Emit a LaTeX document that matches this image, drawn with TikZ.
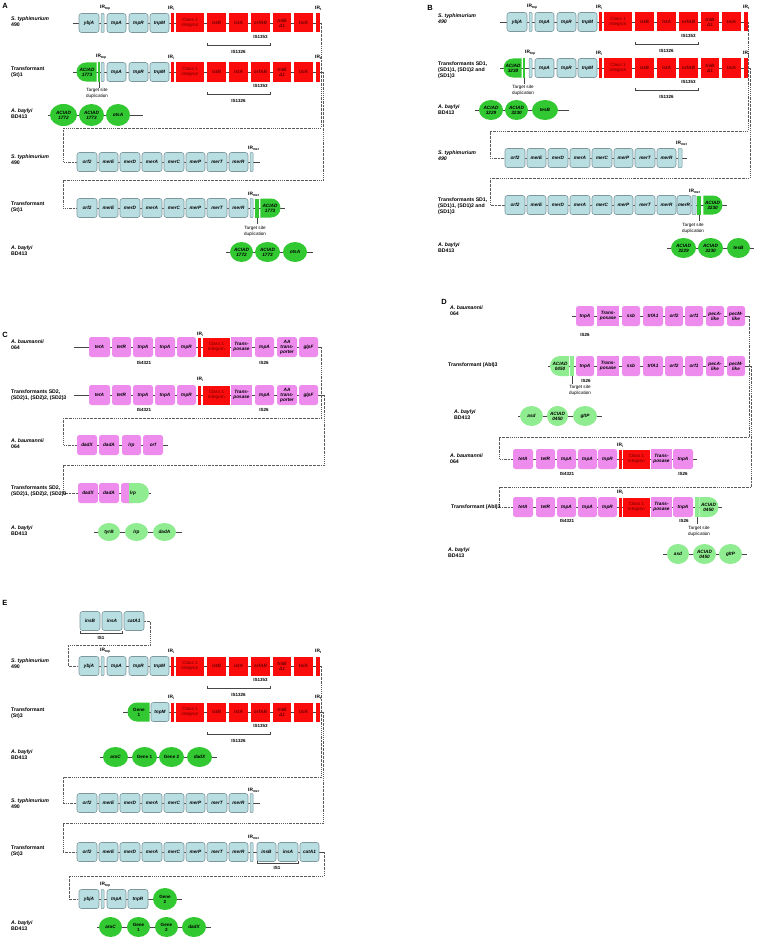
\documentclass[tikz,border=0pt]{standalone}
\usepackage{fontspec}
\setmainfont{Liberation Sans}
\usetikzlibrary{shapes.geometric,shapes.misc}
\pgfdeclarelayer{bglayer}
\pgfsetlayers{bglayer,main}
\definecolor{lbl}{RGB}{185,222,226}
\definecolor{lbd}{RGB}{125,152,156}
\definecolor{rred}{RGB}{250,12,12}
\definecolor{dred}{RGB}{110,0,0}
\definecolor{pnk}{RGB}{238,140,238}
\definecolor{dgr}{RGB}{50,200,50}
\definecolor{lgr}{RGB}{144,236,144}
\definecolor{bbc}{RGB}{70,70,70}
\definecolor{cc}{RGB}{90,90,90}
\newcommand\gfont{\fontsize{4.7}{5}\selectfont\bfseries\itshape}
\newcommand\gnfont{\fontsize{4.6}{5}\selectfont}
\newcommand\lfont{\fontsize{5.2}{6}\selectfont\bfseries}
\newcommand\irfont{\fontsize{4.8}{5}\selectfont\bfseries}
\newcommand\isfont{\fontsize{4.5}{5}\selectfont\bfseries}
\newcommand\tsfont{\fontsize{4.6}{6}\selectfont}
\newcommand\pfont{\fontsize{7.5}{8}\selectfont\bfseries}
\newcommand\bx[6]{\node[#1,minimum width={(#4)-(#3)}] (#2) at ({((#3)+(#4))/2},{#5}) {#6};}
\newcommand\irlab[4]{\node[irl] (#1) at ({#2},{#3}) {IR\textsubscript{#4}};}
\newcommand\tnpblk[3]{%
\bx{lb}{#1tnpA}{107+#2}{126+#2}{#3}{tnpA}
\bx{lb}{#1tnpR}{129+#2}{148+#2}{#3}{tnpR}
\bx{lb}{#1tnpM}{150+#2}{169+#2}{#3}{tnpM}}
\newcommand\redpart[3]{%
\bx{rdbar}{#1irl}{171+#2}{174+#2}{#3}{}
\bx{rdn}{#1int}{176+#2}{204+#2}{#3}{Class 1\\integron}
\bx{rd}{#1istB}{207+#2}{226+#2}{#3}{istB}
\bx{rd}{#1istA}{229+#2}{248+#2}{#3}{istA}
\bx{rd}{#1orfAB}{251+#2}{270+#2}{#3}{orfAB}
\bx{rd}{#1tniB}{273+#2}{291+#2}{#3}{tniB\\Δ1}
\bx{rd}{#1tniA}{294+#2}{313+#2}{#3}{tniA}
\bx{rdbar}{#1irt}{316+#2}{320+#2}{#3}{}
\irlab{#1irll}{168+#2}{#3-15}{i}
\irlab{#1irtl}{315+#2}{#3-15}{t}
\node[islab] (#1isa) at ({260.5+#2},{#3+14}) {IS1353};
\draw[brk] ({207+#2},{#3+20}) -- ({207+#2},{#3+22}) -- ({270+#2},{#3+22}) -- ({270+#2},{#3+20});
\node[islab] (#1isb) at ({238.5+#2},{#3+29}) {IS1326};}
\newcommand\merpart[3]{%
\bx{lb}{#1orf2}{77+#2}{97+#2}{#3}{orf2}
\bx{lb}{#1merE}{99+#2}{118+#2}{#3}{merE}
\bx{lb}{#1merD}{120+#2}{140+#2}{#3}{merD}
\bx{lb}{#1merA}{142+#2}{162+#2}{#3}{merA}
\bx{lb}{#1merC}{164+#2}{184+#2}{#3}{merC}
\bx{lb}{#1merP}{186+#2}{205+#2}{#3}{merP}
\bx{lb}{#1merT}{207+#2}{227+#2}{#3}{merT}
\bx{lb}{#1merR}{229+#2}{248+#2}{#3}{merR}}
\newcommand\pinkrow[2]{%
\bx{pk}{#1tetA}{89}{110}{#2}{tetA}
\bx{pk}{#1tetR}{112}{131}{#2}{tetR}
\bx{pk}{#1tnpA}{133}{153}{#2}{tnpA}
\bx{pk}{#1tnpAb}{155}{175}{#2}{tnpA}
\bx{pk}{#1tnpR}{177}{196}{#2}{tnpR}
\bx{rdbar}{#1irl}{198}{201}{#2}{}
\bx{rdn}{#1int}{203}{230}{#2}{Class 1\\integron}
\bx{pkn}{#1trans}{231}{252}{#2}{Trans-\\posase}
\bx{pk}{#1tnpAc}{255}{274}{#2}{tnpA}
\bx{pk}{#1aat}{277}{297}{#2}{AA\\trans-\\porter}
\bx{pk}{#1glpF}{299}{318}{#2}{glpF}}
\newcommand\drow[2]{%
\bx{pk}{#1tnpA}{576}{594}{#2}{tnpA}
\bx{pkn}{#1trans}{597}{619}{#2}{Trans-\\posase}
\bx{pk}{#1ssb}{622}{640}{#2}{ssb}
\bx{pk}{#1trfA}{643}{663}{#2}{trfA1}
\bx{pk}{#1orf2}{665}{683}{#2}{orf2}
\bx{pk}{#1orf1}{685}{703}{#2}{orf1}
\bx{pk}{#1pecA}{706}{724}{#2}{pecA-\\like}
\bx{pk}{#1pecM}{727}{745}{#2}{pecM-\\like}}
\newcommand\dtnrow[2]{%
\bx{pk}{#1tetA}{513}{533}{#2}{tetA}
\bx{pk}{#1tetR}{536}{555}{#2}{tetR}
\bx{pk}{#1tnpA}{557}{576}{#2}{tnpA}
\bx{pk}{#1tnpAb}{578}{597}{#2}{tnpA}
\bx{pk}{#1tnpR}{598}{617}{#2}{tnpR}
\bx{rdbar}{#1irl}{619}{622}{#2}{}
\bx{rdn}{#1int}{623}{650}{#2}{Class 1\\integron}
\bx{pkn}{#1trans}{651}{672}{#2}{Trans-\\posase}
\bx{pk}{#1tnpAc}{673}{693}{#2}{tnpA}}
\begin{document}
\begin{tikzpicture}[x=1pt,y=-1pt,
 base/.style={inner sep=0pt,outer sep=0pt,minimum height=19pt,align=center,font=\gfont},
 lb/.style={base,fill=lbl,draw=lbd,line width=0.6pt,rounded corners=2.5pt},
 irb/.style={base,fill=lbl,draw=lbd,line width=0.5pt,rounded corners=0.8pt},
 rd/.style={base,fill=rred,text=dred},
 rdn/.style={base,fill=rred,text=dred,font=\gnfont},
 rdbar/.style={base,fill=rred},
 pk/.style={base,fill=pnk,rounded corners=2.5pt,minimum height=20pt},
 pkn/.style={base,fill=pnk,minimum height=20pt},
 gel/.style={base,ellipse,fill=dgr,minimum height=20pt},
 lgel/.style={base,ellipse,fill=lgr,minimum height=20pt},
 gdl/.style={base,rounded rectangle,rounded rectangle right arc=none,fill=dgr},
 gdr/.style={base,rounded rectangle,rounded rectangle left arc=none,fill=dgr},
 lgdl/.style={base,rounded rectangle,rounded rectangle right arc=none,fill=lgr},
 lgdr/.style={base,rounded rectangle,rounded rectangle left arc=none,fill=lgr},
 gbar/.style={base,fill=dgr},
 lgbar/.style={base,fill=lgr},
 lab/.style={anchor=west,align=left,font=\lfont,inner sep=0pt},
 irl/.style={anchor=west,font=\irfont,inner sep=0pt},
 islab/.style={font=\isfont,inner sep=0pt},
 tsd/.style={font=\tsfont,align=center,inner sep=0pt},
 bb/.style={draw=bbc,line width=0.5pt},
 conn/.style={draw=cc,line width=0.5pt,dash pattern=on 1.8pt off 0.9pt on 0.5pt off 0.9pt},
 brk/.style={draw=bbc,line width=0.5pt},
 panel/.style={font=\pfont,inner sep=0pt}]
\useasboundingbox (0,0) rectangle (759,942);
% ================= PANEL A =================
\node[panel] (pA) at (5,6) {A};
\node[lab] (a1lab) at (11,22) {\textit{S. typhimurium}\\490};
\bx{lb}{a1ybj}{79}{99}{23}{ybjA}
\bx{irb}{a1irp}{101}{104}{23}{}
\irlab{a1irpl}{100}{8}{tnp}
\tnpblk{a1}{0}{23}
\redpart{a1}{0}{23}
\coordinate (a1s) at (73,23); \coordinate (a1e) at (321,23);
\node[lab] (a2lab) at (11,72) {Transformant\\(St)1};
\bx{gdl}{a2aci}{77}{97}{72}{ACIAD\\1773}
\bx{gbar}{a2tsd}{97.5}{100}{72}{}
\bx{irb}{a2irp}{101}{104}{72}{}
\irlab{a2irpl}{96}{57}{tnp}
\tnpblk{a2}{0}{72}
\redpart{a2}{0}{72}
\node[tsd] (a2tsdl) at (97,93.5) {Target site\\duplication};
\coordinate (a2s) at (73,72); \coordinate (a2e) at (323,72);
\node[lab] (a3lab) at (11,114) {\textit{A. baylyi}\\BD413};
\bx{gel,minimum height=22pt}{a3e1}{50}{77}{115}{ACIAD\\1772}
\bx{gel,minimum height=22pt}{a3e2}{79}{104}{115}{ACIAD\\1773}
\bx{gel,minimum height=22pt}{a3e3}{106}{130}{115}{otsA}
\coordinate (a3s) at (48,115); \coordinate (a3e) at (143,115);
\node[lab] (a4lab) at (11,160) {\textit{S. typhimurium}\\490};
\merpart{a4}{0}{162}
\bx{irb}{a4irm}{250}{253}{162}{}
\irlab{a4irml}{248}{148}{mer}
\coordinate (a4e) at (260,162);
\node[lab] (a5lab) at (11,207) {Transformant\\(St)1};
\merpart{a5}{0}{208}
\bx{irb}{a5irm}{250}{253}{208}{}
\irlab{a5irml}{248}{194}{mer}
\bx{gbar}{a5tsd}{255}{258.5}{208}{}
\bx{gdr}{a5aci}{260}{280}{208}{ACIAD\\1773}
\node[tsd] (a5tsdl) at (255,231) {Target site\\duplication};
\coordinate (a5e) at (285,208);
\node[lab] (a6lab) at (11,251) {\textit{A. baylyi}\\BD413};
\bx{gel}{a6e1}{230}{253}{252}{ACIAD\\1772}
\bx{gel}{a6e2}{255}{280}{252}{ACIAD\\1773}
\bx{gel}{a6e3}{283}{307}{252}{otsA}
\coordinate (a6s) at (226,252); \coordinate (a6e) at (313,252);
% ================= PANEL B =================
\node[panel] (pB) at (430,8) {B};
\node[lab] (b1lab) at (438,18.5) {\textit{S. typhimurium}\\\textit{490}};
\bx{lb}{b1ybj}{507}{527}{22}{ybjA}
\bx{irb}{b1irp}{529}{532}{22}{}
\irlab{b1irpl}{527}{7}{tnp}
\tnpblk{b1}{428}{22}
\redpart{b1}{428}{22}
\coordinate (b1s) at (500,22); \coordinate (b1e) at (748,22);
\node[lab] (b2lab) at (438,70) {Transformants SD1,\\(SD1)1, (SD1)2 and\\(SD1)3};
\bx{gdl}{b2aci}{504}{522}{68}{ACIAD\\3230}
\bx{gbar}{b2tsd}{522.5}{525}{68}{}
\bx{irb}{b2irp}{529}{532}{68}{}
\irlab{b2irpl}{525}{53}{tnp}
\tnpblk{b2}{428}{68}
\redpart{b2}{428}{68}
\node[tsd] (b2tsdl) at (523,90) {Target site\\duplication};
\coordinate (b2s) at (500,68); \coordinate (b2e) at (750,68);
\node[lab] (b3lab) at (438,110) {\textit{A. baylyi}\\BD413};
\bx{gel}{b3e1}{479}{503}{110}{ACIAD\\3229}
\bx{gel}{b3e2}{505}{528}{110}{ACIAD\\3230}
\bx{gel}{b3e3}{532}{558}{110}{tesB}
\coordinate (b3s) at (475,110); \coordinate (b3e) at (569,110);
\node[lab] (b4lab) at (438,156) {\textit{S. typhimurium}\\\textit{490}};
\merpart{b4}{428}{158}
\bx{irb}{b4irm}{678}{682}{158}{}
\irlab{b4irml}{676}{143}{mer}
\coordinate (b4e) at (687,158);
\node[lab] (b5lab) at (438,206) {Transformants SD1,\\(SD1)1, (SD1)2 and\\(SD1)3};
\merpart{b5}{428}{205}
\bx{lb}{b5merR2}{677}{691}{205}{merR}
\bx{irb}{b5irm}{692}{696}{205}{}
\irlab{b5irml}{689}{191}{mer}
\bx{gbar}{b5tsd}{697}{701}{205}{}
\bx{gdr}{b5aci}{703}{722}{205}{ACIAD\\3230}
\node[tsd] (b5tsdl) at (693,228) {Target site\\duplication};
\coordinate (b5e) at (727,205);
\node[lab] (b6lab) at (438,248) {\textit{A. baylyi}\\BD413};
\bx{gel}{b6e1}{671}{696}{248}{ACIAD\\3229}
\bx{gel}{b6e2}{698}{723}{248}{ACIAD\\3230}
\bx{gel}{b6e3}{727}{750}{248}{tesB}
\coordinate (b6s) at (667,248); \coordinate (b6e) at (754,248);
% ================= PANEL C =================
\node[panel] (pC) at (5,335) {C};
\node[lab] (c1lab) at (11,345) {\textit{A. baumannii}\\064};
\pinkrow{c1}{347}
\irlab{c1irll}{197}{334}{i}
\node[islab] (c1isa) at (144,363) {IS4321};
\node[islab] (c1isb) at (264,363) {IS26};
\coordinate (c1s) at (74,347); \coordinate (c1e) at (321,347);
\node[lab] (c2lab) at (11,395) {Transformants SD2,\\(SD2)1, (SD2)2, (SD2)3};
\pinkrow{c2}{395}
\irlab{c2irll}{197}{379}{i}
\node[islab] (c2isa) at (144,410) {IS4321};
\node[islab] (c2isb) at (264,410) {IS26};
\coordinate (c2s) at (74,395); \coordinate (c2e) at (324,395);
\node[lab] (c3lab) at (11,444) {\textit{A. baumannii}\\064};
\bx{pk}{c3dadX}{77}{97}{445}{dadX}
\bx{pk}{c3dadA}{99}{119}{445}{dadA}
\bx{pk}{c3lrp}{122}{141}{445}{lrp}
\bx{pk}{c3orf}{143}{163}{445}{orf}
\coordinate (c3e) at (168,445);
\node[lab] (c4lab) at (11,491) {Transformants SD2,\\(SD2)1, (SD2)2, (SD2)3};
\bx{pk}{c4dadX}{78}{98}{493}{dadX}
\bx{pk}{c4dadA}{99}{119}{493}{dadA}
\bx{pk}{c4lrpa}{121}{136}{493}{}
\bx{lgdr,minimum height=20pt}{c4lrpb}{133}{145}{493}{}
\node[base] (c4lrpt) at (133,493) {lrp};
\coordinate (c4e) at (151,493);
\node[lab] (c5lab) at (11,531) {\textit{A. baylyi}\\BD413};
\bx{lgel,minimum height=18pt}{c5e1}{98}{120}{532}{tyrB}
\bx{lgel,minimum height=18pt}{c5e2}{125}{148}{532}{lrp}
\bx{lgel,minimum height=18pt}{c5e3}{153}{176}{532}{dadA}
\coordinate (c5s) at (94,532); \coordinate (c5e) at (182,532);
% ================= PANEL D =================
\node[panel] (pD) at (444,302) {D};
\node[lab] (d1lab) at (450,311) {\textit{A. baumannii}\\064};
\drow{d1}{316}
\node[islab] (d1is) at (585,335) {IS26};
\coordinate (d1s) at (572,316); \coordinate (d1e) at (749,316);
\node[lab] (d2lab) at (448,365) {Transformant (AbI)3};
\bx{lgdl,minimum height=20pt}{d2aci}{551}{569}{366}{ACIAD\\0450}
\bx{lgbar,minimum height=20pt}{d2tsd}{570}{574}{366}{}
\drow{d2}{366}
\node[islab] (d2is) at (586,381) {IS26};
\node[tsd] (d2tsdl) at (580,390) {Target site\\duplication};
\coordinate (d2s) at (548,366); \coordinate (d2e) at (751,366);
\node[lab] (d3lab) at (454,415) {\textit{A. baylyi}\\BD413};
\bx{lgel}{d3e1}{520}{543}{416}{asd}
\bx{lgel}{d3e2}{547}{568}{416}{ACIAD\\0450}
\bx{lgel}{d3e3}{573}{597}{416}{gltP}
\coordinate (d3s) at (518,416); \coordinate (d3e) at (602,416);
\node[lab] (d4lab) at (450,459) {\textit{A. baumannii}\\064};
\dtnrow{d4}{459}
\irlab{d4irll}{617}{445}{i}
\node[islab] (d4isa) at (567,474) {IS4321};
\node[islab] (d4isb) at (683,474) {IS26};
\coordinate (d4e) at (697,459);
\node[lab] (d5lab) at (451,507) {Transformant (AbI)3};
\dtnrow{d5}{507}
\irlab{d5irll}{617}{492}{i}
\bx{lgbar,minimum height=20pt}{d5tsd}{695}{699}{507}{}
\bx{lgdr,minimum height=20pt}{d5aci}{700}{717}{507}{ACIAD\\0450}
\node[islab] (d5isa) at (567,521) {IS4321};
\node[islab] (d5isb) at (684,521) {IS26};
\node[tsd] (d5tsdl) at (699,531) {Target site\\duplication};
\coordinate (d5e) at (722,507);
\node[lab] (d6lab) at (448,553) {\textit{A. baylyi}\\BD413};
\bx{lgel}{d6e1}{667}{689}{554}{asd}
\bx{lgel}{d6e2}{693}{716}{554}{ACIAD\\0450}
\bx{lgel}{d6e3}{719}{742}{554}{gltP}
\coordinate (d6s) at (663,554); \coordinate (d6e) at (747,554);
% ================= PANEL E =================
\node[panel] (pE) at (5,603) {E};
\bx{lb}{e0insB}{80}{100}{621}{insB}
\bx{lb}{e0insA}{102}{122}{621}{insA}
\bx{lb}{e0cat}{124}{144}{621}{catA1}
\draw[brk] (80,631) -- (80,633) -- (122,633) -- (122,631);
\node[islab] (e0is) at (101,638) {IS1};
\node[lab] (e1lab) at (11,664) {\textit{S. typhimurium}\\490};
\bx{lb}{e1ybj}{79}{99}{666}{ybjA}
\bx{irb}{e1irp}{101}{104}{666}{}
\irlab{e1irpl}{100}{651}{tnp}
\tnpblk{e1}{0}{666}
\redpart{e1}{0}{666}
\coordinate (e1e) at (321,666);
\node[lab] (e2lab) at (11,713) {Transformant\\(St)3};
\bx{gdl,font=\gnfont\bfseries}{e2gene}{128}{150}{712}{Gene\\1}
\bx{lb}{e2tnpM}{151}{169}{712}{tnpM}
\redpart{e2}{0}{712}
\coordinate (e2s) at (123,712); \coordinate (e2e) at (323,712);
\node[lab] (e3lab) at (11,755) {\textit{A. baylyi}\\BD413};
\bx{gel}{e3e1}{103}{128}{757}{araC}
\bx{gel,font=\gnfont\bfseries}{e3e2}{132}{157}{757}{Gene 1}
\bx{gel,font=\gnfont\bfseries}{e3e3}{159}{184}{757}{Gene 2}
\bx{gel}{e3e4}{187}{212}{757}{dadX}
\coordinate (e3s) at (100,757); \coordinate (e3e) at (217,757);
\node[lab] (e4lab) at (11,804) {\textit{S. typhimurium}\\490};
\merpart{e4}{0}{803}
\bx{irb}{e4irm}{250}{253}{803}{}
\irlab{e4irml}{248}{790}{mer}
\coordinate (e4e) at (260,803);
\node[lab] (e5lab) at (11,851) {Transformant\\(St)3};
\merpart{e5}{0}{852}
\bx{irb}{e5irm}{250}{253}{852}{}
\irlab{e5irml}{248}{837}{mer}
\bx{lb}{e5insB}{257}{276}{852}{insB}
\bx{lb}{e5insA}{278}{298}{852}{insA}
\bx{lb}{e5cat}{300}{319}{852}{catA1}
\draw[brk] (257,861) -- (257,863) -- (298,863) -- (298,861);
\node[islab] (e5is) at (277,867.5) {IS1};
\coordinate (e5e) at (324,852);
\bx{lb}{e6ybj}{79}{99}{899}{ybjA}
\bx{irb}{e6irp}{101}{104}{899}{}
\irlab{e6irpl}{100}{885}{tnp}
\bx{lb}{e6tnpA}{107}{126}{899}{tnpA}
\bx{lb}{e6tnpR}{128}{148}{899}{tnpR}
\bx{gel,minimum height=22pt,font=\gnfont\bfseries}{e6gene}{153}{177}{899}{Gene\\2}
\coordinate (e6e) at (182,899);
\node[lab] (e7lab) at (11,926) {\textit{A. baylyi}\\BD413};
\bx{gel}{e7e1}{99}{122}{927}{araC}
\bx{gel,font=\gnfont\bfseries}{e7e2}{127}{150}{927}{Gene\\1}
\bx{gel,font=\gnfont\bfseries}{e7e3}{155}{178}{927}{Gene\\2}
\bx{gel}{e7e4}{182}{206}{927}{dadX}
\coordinate (e7s) at (97,927); \coordinate (e7e) at (211,927);
% ================= BACKGROUND: lines =================
\begin{pgfonlayer}{bglayer}
\fill[white] (0,0) rectangle (759,942);
\draw[bb] (a1s) -- (a1e); \draw[bb] (a2s) -- (a2e); \draw[bb] (a3s) -- (a3e);
\draw[bb] (a4orf2.west) -- (a4e); \draw[bb] (a5orf2.west) -- (a5e); \draw[bb] (a6s) -- (a6e);
\draw[bb] (b1s) -- (b1e); \draw[bb] (b2s) -- (b2e); \draw[bb] (b3s) -- (b3e);
\draw[bb] (b4orf2.west) -- (b4e); \draw[bb] (b5orf2.west) -- (b5e); \draw[bb] (b6s) -- (b6e);
\draw[bb] (c1s) -- (c1e); \draw[bb] (c2s) -- (c2e); \draw[bb] (c3dadX.west) -- (c3e);
\draw[bb] (c4dadX.west) -- (c4e); \draw[bb] (c5s) -- (c5e);
\draw[bb] (d1s) -- (d1e); \draw[bb] (d2s) -- (d2e); \draw[bb] (d3s) -- (d3e);
\draw[bb] (d4tetA.west) -- (d4e); \draw[bb] (d5tetA.west) -- (d5e); \draw[bb] (d6s) -- (d6e);
\draw[bb] (e1ybj.west) -- (e1e); \draw[bb] (e2s) -- (e2e); \draw[bb] (e3s) -- (e3e);
\draw[bb] (e4orf2.west) -- (e4e); \draw[bb] (e5orf2.west) -- (e5e);
\draw[bb] (e6ybj.west) -- (e6e); \draw[bb] (e7s) -- (e7e);
% target site ticks
\draw[brk] (a2tsd.south) -- ++(0,6);
\draw[brk] (a5tsd.south) -- ++(0,6);
\draw[brk] (b2tsd.south) -- ++(0,6);
\draw[brk] (b5tsd.south) -- ++(0,6);
\draw[brk] (d2tsd.south) -- ++(0,8);
\draw[brk] (d5tsd.south) -- ++(0,7);
% connectors
\draw[conn] (a1e) -- (321,128) -- (63,128) |- (a4orf2.west);
\draw[conn] (a2e) -- (323,180) -- (63,180) |- (a5orf2.west);
\draw[conn] (b1e) -- (748,131) -- (490,131) |- (b4orf2.west);
\draw[conn] (b2e) -- (750,178) -- (490,178) |- (b5orf2.west);
\draw[conn] (c1e) -- (321,418) -- (63,418) |- (c3dadX.west);
\draw[conn] (c2e) -- (324,465) -- (63,465) |- (c4dadX.west);
\draw[conn] (d1e) -- (749,437) -- (499,437) |- (d4tetA.west);
\draw[conn] (d2e) -- (751,487) -- (499,487) |- (d5tetA.west);
\draw[conn] (e0cat.east) -- (150,621) -- (150,645) -- (68,645) |- (e1ybj.west);
\draw[conn] (e1e) -- (321,777) -- (63,777) |- (e4orf2.west);
\draw[conn] (e2e) -- (323,823) -- (63,823) |- (e5orf2.west);
\draw[conn] (e5e) -- (324,876) -- (69,876) |- (e6ybj.west);
\end{pgfonlayer}
\end{tikzpicture}
\end{document}
